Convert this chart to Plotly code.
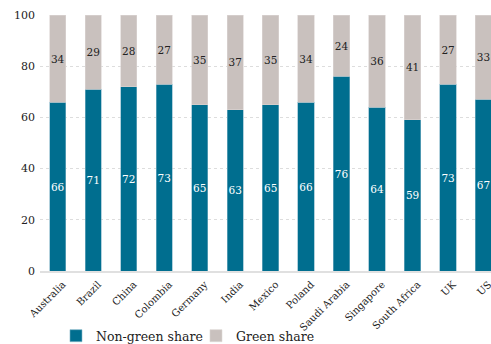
import plotly.graph_objects as go

countries = ["Australia", "Brazil", "China", "Colombia", "Germany", "India", "Mexico",
             "Poland", "Saudi Arabia", "Singapore", "South Africa", "UK", "US"]
non_green = [66, 71, 72, 73, 65, 63, 65, 66, 76, 64, 59, 73, 67]
green = [34, 29, 28, 27, 35, 37, 35, 34, 24, 36, 41, 27, 33]
y_ticks = [0, 20, 40, 60, 80, 100]

FONT = "DejaVu Serif"
TEAL = "#006e8f"
GREY = "#c9c1be"

fig = go.Figure()
fig.add_trace(go.Bar(
    x=countries, y=non_green, name="Non-green share",
    marker=dict(color=TEAL, line=dict(color="#7fb3c6", width=0.6)),
    text=non_green, textposition="inside", insidetextanchor="middle",
    constraintext="none",
    textfont=dict(color="white", size=10.5, family=FONT), textangle=0,
))
fig.add_trace(go.Bar(
    x=countries, y=green, name="Green share",
    marker=dict(color=GREY, line=dict(color="#dcd6d4", width=0.6)),
    text=green, textposition="inside", insidetextanchor="middle",
    constraintext="none",
    textfont=dict(color="#222222", size=10.5, family=FONT), textangle=0,
))

fig.update_layout(
    width=491, height=344,
    margin=dict(l=40, r=0, t=15, b=73, autoexpand=False),
    barmode="stack", bargap=0.54,
    plot_bgcolor="white", paper_bgcolor="white",
    font=dict(family=FONT, size=10.5, color="#222222"),
    showlegend=True,
    legend=dict(orientation="h", xref="container", yref="container",
                x=0.114, xanchor="left", y=0.023, yanchor="middle",
                bgcolor="rgba(0,0,0,0)",
                font=dict(size=12.5, family=FONT, color="#222222"),
                traceorder="normal", itemwidth=30, tracegroupgap=0,
                entrywidth=95, entrywidthmode="pixels"),
    xaxis=dict(range=[-0.5, 12.21], tickangle=-45, showgrid=False, automargin=False,
               tickfont=dict(size=10, family=FONT, color="#222222"),
               showline=True, linecolor="#e0e0e0", linewidth=1.5,
               ticks="", ticklabelstandoff=2, ticklabelshift=5),
    yaxis=dict(range=[0, 100], tickvals=y_ticks, showgrid=True, automargin=False,
               gridcolor="#dddddd", griddash="dot", gridwidth=1,
               zeroline=False, ticks="", ticklabelstandoff=4,
               tickfont=dict(size=11, family=FONT, color="#222222")),
)
fig.write_html("out.html")
